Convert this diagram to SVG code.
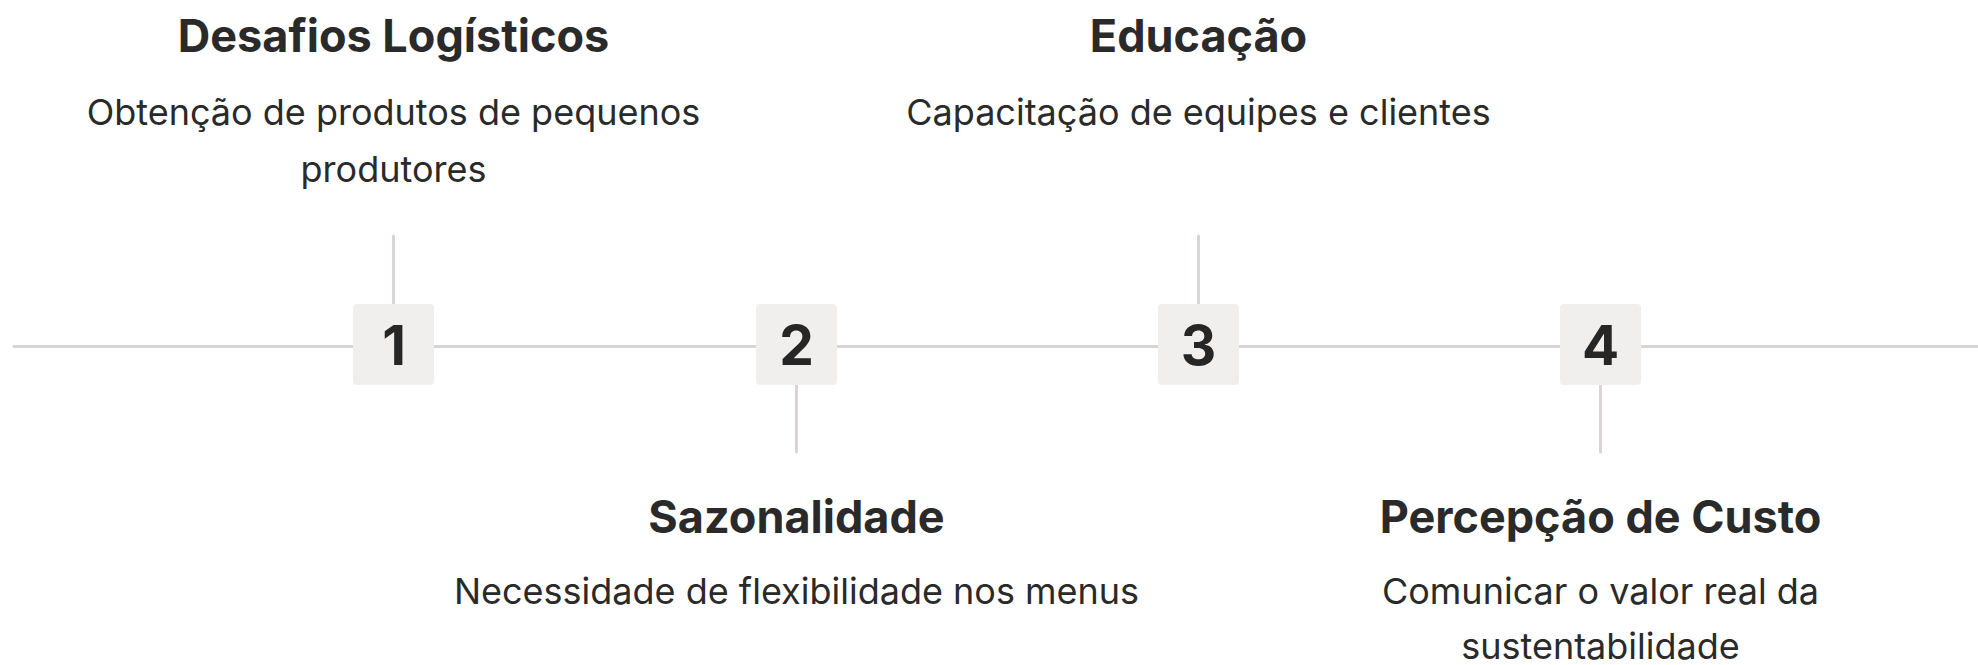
<svg xmlns="http://www.w3.org/2000/svg" width="1978" height="665" viewBox="0 0 1978 665">
<style>
.ln{stroke:#d9d5d5;stroke-width:3;stroke-linecap:round;fill:none}
.box{fill:#f1eeee}
.num{font-family:Inter,"Liberation Sans",sans-serif;font-weight:700;font-size:55px;fill:#262626;text-anchor:middle}
.ttl{font-family:Inter,"Liberation Sans",sans-serif;font-weight:700;font-size:45px;fill:#2a2a2a;text-anchor:middle}
.dsc{font-family:Inter,"Liberation Sans",sans-serif;font-weight:400;font-size:36px;fill:#2a2a2a;text-anchor:middle}
</style>
<rect width="1978" height="665" fill="#ffffff"/>
<g id="connectors">
<line class="ln" x1="14" y1="346.5" x2="1978" y2="346.5"/>
<line class="ln" x1="393.5" y1="236" x2="393.5" y2="304"/>
<line class="ln" x1="796.5" y1="385" x2="796.5" y2="452"/>
<line class="ln" x1="1198.5" y1="236" x2="1198.5" y2="304"/>
<line class="ln" x1="1600.5" y1="385" x2="1600.5" y2="452"/>
</g>
<g id="node1">
<rect class="box" x="353" y="304" width="81" height="81" rx="4"/>
<text class="num" x="394" y="365">1</text>
<text class="ttl" x="393.5" y="51.5">Desafios Logísticos</text>
<text class="dsc" x="393.5" y="125">Obtenção de produtos de pequenos</text>
<text class="dsc" x="393.5" y="181.5">produtores</text>
</g>
<g id="node2">
<rect class="box" x="756" y="304" width="81" height="81" rx="4"/>
<text class="num" x="796.5" y="365">2</text>
<text class="ttl" x="796.5" y="533">Sazonalidade</text>
<text class="dsc" x="796.5" y="604">Necessidade de flexibilidade nos menus</text>
</g>
<g id="node3">
<rect class="box" x="1158" y="304" width="81" height="81" rx="4"/>
<text class="num" x="1198.5" y="365">3</text>
<text class="ttl" x="1198.5" y="51.5">Educação</text>
<text class="dsc" x="1198.5" y="125">Capacitação de equipes e clientes</text>
</g>
<g id="node4">
<rect class="box" x="1560" y="304" width="81" height="81" rx="4"/>
<text class="num" x="1600.5" y="365">4</text>
<text class="ttl" x="1600.5" y="533">Percepção de Custo</text>
<text class="dsc" x="1600.5" y="604">Comunicar o valor real da</text>
<text class="dsc" x="1600.5" y="659">sustentabilidade</text>
</g>
</svg>
